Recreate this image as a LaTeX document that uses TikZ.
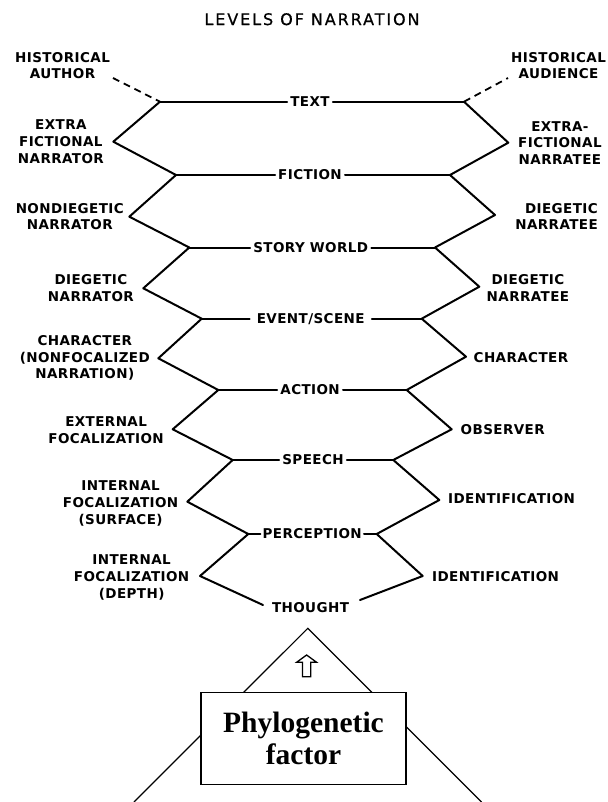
\documentclass[tikz,border=0pt]{standalone}
\usepackage{fontspec}
\setmainfont{DejaVu Sans}
\newfontfamily\labfont[LetterSpace=3]{DejaVu Sans}
\newfontfamily\titlefont[LetterSpace=12,FakeBold=0.6]{DejaVu Sans}
\newfontfamily\boxfont{Liberation Serif}
\tikzset{
  lab/.style={font=\labfont\bfseries\fontsize{13.5}{16.8}\selectfont, align=center, inner sep=0pt},
  lvl/.style={font=\labfont\bfseries\fontsize{13.5}{16.8}\selectfont, inner xsep=3pt, inner ysep=0pt, text height=9.8pt, text depth=0pt},
  zig/.style={line width=2pt, line cap=round, line join=round},
  dsh/.style={line width=1.8pt, dash pattern=on 7pt off 5pt},
  tri/.style={line width=1.2pt},
  phylo/.style={draw, line width=1.4pt, fill=white, minimum width=205pt, minimum height=92pt, inner sep=0pt, align=center, font=\boxfont\bfseries\fontsize{29.5}{32.6}\selectfont},
}
\begin{document}
\begin{tikzpicture}[x=1pt, y=-1pt]
\useasboundingbox (0,0) rectangle (607,802);
\fill[white] (0,0) rectangle (607,802);

% title
\node[font=\titlefont\fontsize{16}{19}\selectfont, text height=11.7pt, text depth=0pt, inner sep=0pt] (title) at (312,19.2) {LEVELS OF NARRATION};

% level labels
\node[lvl] (text) at (310,101.7) {TEXT};
\node[lvl] (fiction) at (310,175) {FICTION};
\node[lvl] (story) at (310.7,247.5) {STORY WORLD};
\node[lvl, inner xsep=7pt] (event) at (310.7,318.7) {EVENT/SCENE};
\node[lvl] (action) at (310.1,390) {ACTION};
\node[lvl] (speech) at (313,460) {SPEECH};
\node[lvl, inner xsep=2pt] (perception) at (312.2,534) {PERCEPTION};
\node[lvl] (thought) at (310.5,608) {THOUGHT};

% vertices
\coordinate (tl) at (160,101.7);   \coordinate (tr) at (464,101.7);
\coordinate (v1l) at (113.3,141.7); \coordinate (v1r) at (508.3,142.7);
\coordinate (fl) at (176,175);     \coordinate (fr) at (450,175);
\coordinate (v2l) at (129.3,216.7); \coordinate (v2r) at (495,215);
\coordinate (sl) at (189.3,247.5); \coordinate (sr) at (435,247.5);
\coordinate (v3l) at (143.3,288.3); \coordinate (v3r) at (479.3,286.7);
\coordinate (el) at (201.7,318.7); \coordinate (er) at (421.7,318.7);
\coordinate (v4l) at (158.3,358.3); \coordinate (v4r) at (466,356.7);
\coordinate (al) at (218.3,390);   \coordinate (ar) at (406.7,390);
\coordinate (v5l) at (172.7,429.3); \coordinate (v5r) at (451.7,429.3);
\coordinate (spl) at (232.7,460);  \coordinate (spr) at (393.3,460);
\coordinate (v6l) at (187.3,501.7); \coordinate (v6r) at (439.3,500);
\coordinate (pl) at (248.3,534);   \coordinate (pr) at (376.7,534);
\coordinate (v7l) at (200,576);    \coordinate (v7r) at (422.7,576);
\coordinate (thl) at (263,605);    \coordinate (thr) at (360,600);

% horizontal lines
\draw[zig] (tl) -- (text) -- (tr);
\draw[zig] (fl) -- (fiction) -- (fr);
\draw[zig] (sl) -- (story) -- (sr);
\draw[zig] (el) -- (event) -- (er);
\draw[zig] (al) -- (action) -- (ar);
\draw[zig] (spl) -- (speech) -- (spr);
\draw[zig] (pl) -- (perception) -- (pr);

% zigzags
\draw[zig] (tl) -- (v1l) -- (fl) -- (v2l) -- (sl) -- (v3l) -- (el) -- (v4l) -- (al) -- (v5l) -- (spl) -- (v6l) -- (pl) -- (v7l) -- (thl);
\draw[zig] (tr) -- (v1r) -- (fr) -- (v2r) -- (sr) -- (v3r) -- (er) -- (v4r) -- (ar) -- (v5r) -- (spr) -- (v6r) -- (pr) -- (v7r) -- (thr);

% historical
\node[lab] (hauthor) at (62.5,65.5) {HISTORICAL\\AUTHOR};
\node[lab] (haudience) at (558.5,65.5) {HISTORICAL\\AUDIENCE};
\coordinate (hae) at (113,78);
\coordinate (hue) at (508,78);
\draw[dsh] (hae) -- (tl);
\draw[dsh] (tr) -- (hue);

% left labels
\node[lab, anchor=east] (l1) at (104,141.5) {EXTRA\\FICTIONAL\\NARRATOR};
\node[lab, anchor=east] (l2) at (124,216.5) {NONDIEGETIC\\NARRATOR};
\node[lab, anchor=east] (l3) at (134,288) {DIEGETIC\\NARRATOR};
\node[lab, anchor=east] (l4) at (150,358) {CHARACTER\\(NONFOCALIZED\\NARRATION)};
\node[lab, anchor=east] (l5) at (164,430.5) {EXTERNAL\\FOCALIZATION};
\node[lab, anchor=east] (l6) at (178.5,503.5) {INTERNAL\\FOCALIZATION\\(SURFACE)};
\node[lab, anchor=east] (l7) at (189.5,577.5) {INTERNAL\\FOCALIZATION\\(DEPTH)};

% right labels
\node[lab, anchor=west] (r1) at (518,143) {EXTRA-\\FICTIONAL\\NARRATEE};
\node[lab, anchor=east, align=right] (r2) at (598,216.5) {DIEGETIC\\NARRATEE};
\node[lab, anchor=west] (r3) at (486.5,288) {DIEGETIC\\NARRATEE};
\node[lab, anchor=west] (r4) at (473.5,358) {CHARACTER};
\node[lab, anchor=west] (r5) at (460.5,430) {OBSERVER};
\node[lab, anchor=west] (r6) at (448,499) {IDENTIFICATION};
\node[lab, anchor=west] (r7) at (432,577) {IDENTIFICATION};

% triangle and box
\coordinate (apex) at (307.8,628.3);
\coordinate (tbl) at (134,802);
\coordinate (tbr) at (481.6,802);
\draw[tri] (tbl) -- (apex) -- (tbr);
\draw[line width=1.3pt, line join=miter] (306.6,655) -- (316.6,662.3) -- (310.7,662.3) -- (310.7,676.7) -- (302.4,676.7) -- (302.4,662.3) -- (296.6,662.3) -- cycle;
\node[phylo] (box) at (303.5,738.3) {Phylogenetic\\factor};
\end{tikzpicture}
\end{document}
